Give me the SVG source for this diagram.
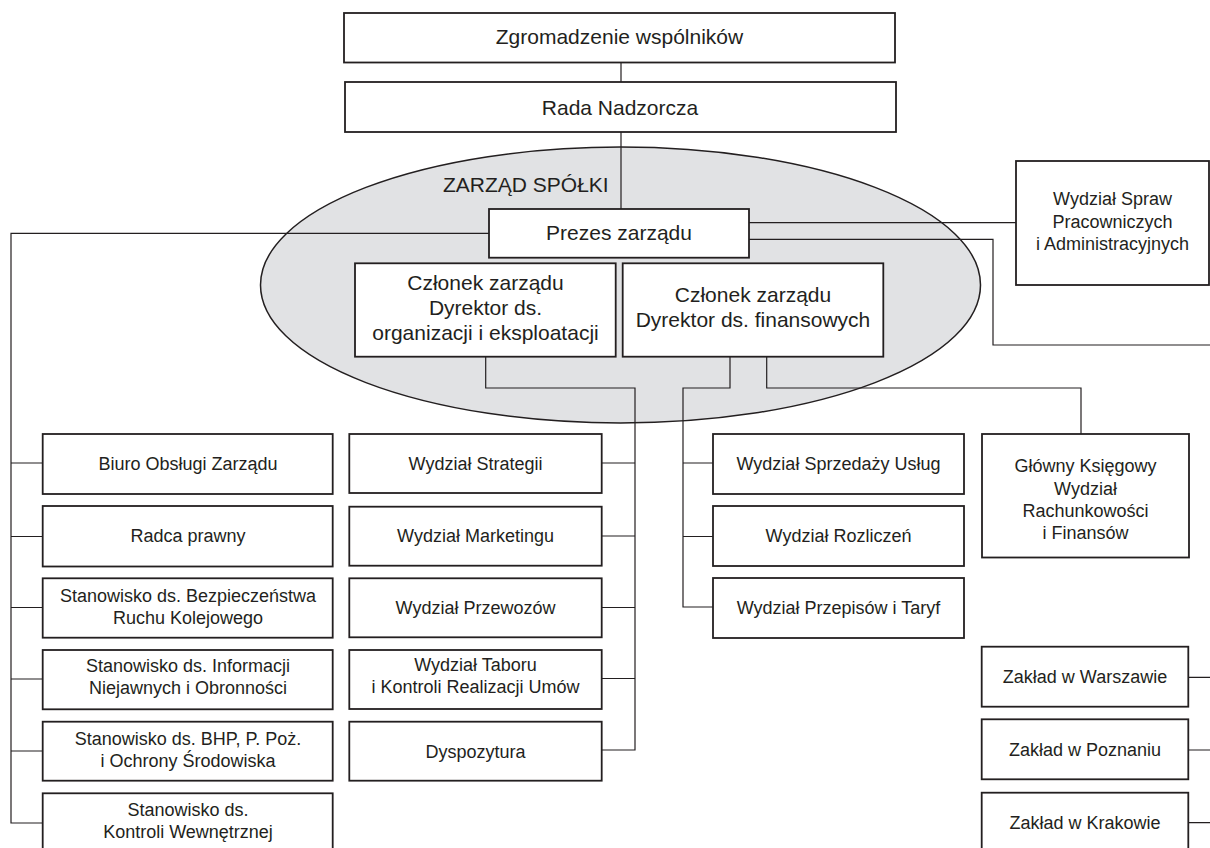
<svg xmlns="http://www.w3.org/2000/svg" width="1210" height="848" viewBox="0 0 1210 848">
<style>
.box{fill:#fff;stroke:#231f20;stroke-width:1.8}
.conn{fill:none;stroke:#231f20;stroke-width:1.2}
.t{font-family:"Liberation Sans",Arial,Helvetica,sans-serif;fill:#231f20;text-anchor:middle}
.l{font-size:21px}
.s{font-size:18px}
</style>
<rect width="1210" height="848" fill="#fff"/>
<ellipse id="zarzad" cx="620.5" cy="285" rx="360" ry="138" fill="#e1e2e4" stroke="#231f20" stroke-width="1.5"/>
<text class="t l" x="443" y="192" style="text-anchor:start">ZARZĄD SPÓŁKI</text>
<g id="connectors" class="conn">
<path d="M621 62V82M621 132V209"/>
<path d="M489 233.3H11V823H43"/>
<path d="M11 463H43M11 536.5H43M11 607.5H43M11 679H43M11 751H43"/>
<path d="M749 222.7H1016"/>
<path d="M749 239.3H993V345H1210"/>
<path d="M485.7 357V388H635V750H602"/>
<path d="M602 463H635M602 536H635M602 607.5H635M602 678.5H635"/>
<path d="M730 357V388H683V607H713M683 463H713M683 536.5H713"/>
<path d="M766.7 357V388H1081V434"/>
<path d="M1188 677.3H1210M1188 750H1210M1188 822.7H1210"/>
</g>
<g id="n-zgromadzenie"><rect class="box" x="344" y="13" width="551" height="49.5"/><text class="t l" x="619.5" y="44">Zgromadzenie wspólników</text></g>
<g id="n-rada"><rect class="box" x="345" y="82" width="551" height="50"/><text class="t l" x="620" y="114.5">Rada Nadzorcza</text></g>
<g id="n-prezes"><rect class="box" x="489" y="209" width="260" height="48.7"/><text class="t l" x="619" y="240">Prezes zarządu</text></g>
<g id="n-czlonek1"><rect class="box" x="355" y="263.3" width="260.7" height="93.4"/><text class="t l" x="485.5"><tspan x="485.5" y="289.5">Członek zarządu</tspan><tspan x="485.5" y="314.5">Dyrektor ds.</tspan><tspan x="485.5" y="339.5">organizacji i eksploatacji</tspan></text></g>
<g id="n-czlonek2"><rect class="box" x="622.7" y="263.3" width="260.6" height="93.4"/><text class="t l" x="753"><tspan x="753" y="302">Członek zarządu</tspan><tspan x="753" y="327">Dyrektor ds. finansowych</tspan></text></g>
<g id="n-spraw"><rect class="box" x="1016" y="161" width="193" height="124"/><text class="t s"><tspan x="1112.5" y="205">Wydział Spraw</tspan><tspan x="1112.5" y="227.5">Pracowniczych</tspan><tspan x="1112.5" y="250">i Administracyjnych</tspan></text></g>
<g id="n-biuro"><rect class="box" x="42.7" y="434" width="290" height="60"/><text class="t s" x="188" y="470">Biuro Obsługi Zarządu</text></g>
<g id="n-radca"><rect class="box" x="42.7" y="506" width="290" height="60.5"/><text class="t s" x="188" y="542">Radca prawny</text></g>
<g id="n-bezp"><rect class="box" x="42.7" y="578.3" width="290" height="59.4"/><text class="t s"><tspan x="188" y="601.7">Stanowisko ds. Bezpieczeństwa</tspan><tspan x="188" y="623.5">Ruchu Kolejowego</tspan></text></g>
<g id="n-inf"><rect class="box" x="42.7" y="650" width="290" height="59.3"/><text class="t s"><tspan x="188" y="672">Stanowisko ds. Informacji</tspan><tspan x="188" y="694">Niejawnych i Obronności</tspan></text></g>
<g id="n-bhp"><rect class="box" x="42.7" y="721.7" width="290" height="59"/><text class="t s"><tspan x="188" y="745">Stanowisko ds. BHP, P. Poż.</tspan><tspan x="188" y="766.5">i Ochrony Środowiska</tspan></text></g>
<g id="n-kontrola"><rect class="box" x="42.7" y="793.3" width="290" height="60"/><text class="t s"><tspan x="188" y="816">Stanowisko ds.</tspan><tspan x="188" y="838">Kontroli Wewnętrznej</tspan></text></g>
<g id="n-strategii"><rect class="box" x="349.3" y="434" width="252.4" height="59"/><text class="t s" x="475.5" y="470">Wydział Strategii</text></g>
<g id="n-marketingu"><rect class="box" x="349.3" y="506.7" width="252.4" height="59"/><text class="t s" x="475.5" y="542">Wydział Marketingu</text></g>
<g id="n-przewozow"><rect class="box" x="349.3" y="578.3" width="252.4" height="59"/><text class="t s" x="475.5" y="614">Wydział Przewozów</text></g>
<g id="n-taboru"><rect class="box" x="349.3" y="650" width="252.4" height="59"/><text class="t s"><tspan x="475.5" y="671">Wydział Taboru</tspan><tspan x="475.5" y="693.3">i Kontroli Realizacji Umów</tspan></text></g>
<g id="n-dyspozytura"><rect class="box" x="349.3" y="721.7" width="252.4" height="59"/><text class="t s" x="475.5" y="758">Dyspozytura</text></g>
<g id="n-sprzedazy"><rect class="box" x="713" y="434" width="251" height="60"/><text class="t s" x="838.5" y="470">Wydział Sprzedaży Usług</text></g>
<g id="n-rozliczen"><rect class="box" x="713" y="506" width="251" height="60"/><text class="t s" x="838.5" y="542">Wydział Rozliczeń</text></g>
<g id="n-przepisow"><rect class="box" x="713" y="578" width="251" height="60"/><text class="t s" x="838.5" y="614">Wydział Przepisów i Taryf</text></g>
<g id="n-glowny"><rect class="box" x="982" y="434" width="207" height="123.5"/><text class="t s"><tspan x="1085.5" y="472">Główny Księgowy</tspan><tspan x="1085.5" y="494.5">Wydział</tspan><tspan x="1085.5" y="516.5">Rachunkowości</tspan><tspan x="1085.5" y="538.5">i Finansów</tspan></text></g>
<g id="n-warszawa"><rect class="box" x="981.7" y="646.7" width="206.6" height="60"/><text class="t s" x="1085" y="683.3">Zakład w Warszawie</text></g>
<g id="n-poznan"><rect class="box" x="981.7" y="719.3" width="206.6" height="60"/><text class="t s" x="1085" y="756.3">Zakład w Poznaniu</text></g>
<g id="n-krakow"><rect class="box" x="981.7" y="792.7" width="206.6" height="60"/><text class="t s" x="1085" y="828.5">Zakład w Krakowie</text></g>
</svg>
